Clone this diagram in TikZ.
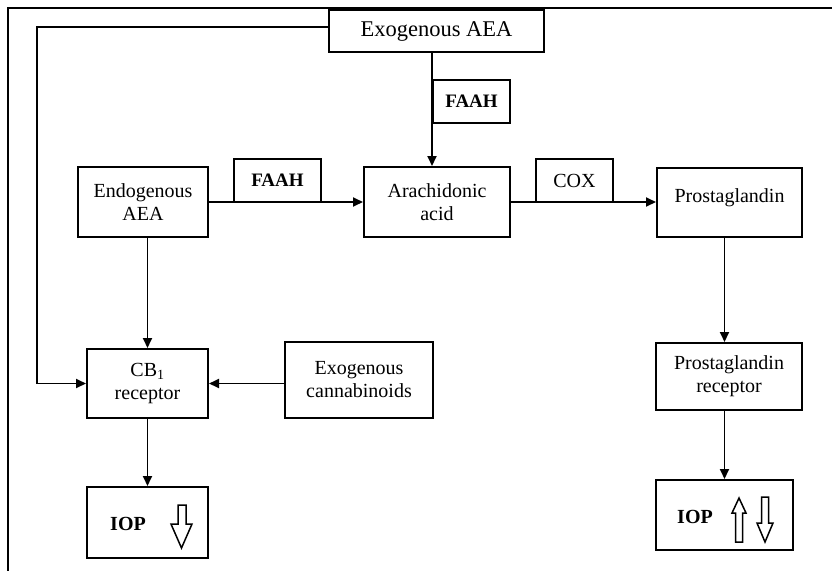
\documentclass[tikz,border=0pt]{standalone}
\usepackage{fontspec}
\setmainfont{Liberation Serif}
\usetikzlibrary{arrows.meta,calc}
\begin{document}
\begin{tikzpicture}[x=1pt,y=-1pt,
  box/.style={draw,line width=2pt,rectangle,inner sep=0pt,align=center,
    font=\fontsize{20}{23}\selectfont},
  lbl/.style={draw,line width=2pt,rectangle,inner sep=0pt,align=center,
    font=\fontsize{19}{22}\selectfont\bfseries},
  conn/.style={line width=1.8pt,-{Triangle[length=10pt,width=9pt]}},
  hollow/.style={line width=1.5pt,line join=miter}]
\useasboundingbox (0,0) rectangle (832,571);
% outer frame
\draw[line width=2.4pt] (832,8) -- (8,8) -- (8,571);
% nodes
\node[box,minimum width=215pt,minimum height=42pt,font=\fontsize{22.5}{25}\selectfont] (exo) at (436.5,31) {Exogenous AEA};
\node[lbl,minimum width=77pt,minimum height=43pt] (faah1) at (471.5,101.5) {FAAH};
\node[box,minimum width=146pt,minimum height=70pt] (ara) at (437,202) {Arachidonic\\acid};
\node[box,minimum width=130pt,minimum height=70pt] (endo) at (143,202) {Endogenous\\AEA};
\node[lbl,minimum width=87pt,minimum height=43pt] (faah2) at (277.5,180.5) {FAAH};
\node[box,minimum width=77pt,minimum height=43pt] (cox) at (574.5,180.5) {COX};
\node[box,minimum width=145pt,minimum height=69pt] (pg) at (729.5,202.5) {};
\node[font=\fontsize{20}{23}\selectfont] (pgt) at (729.5,198) {Prostaglandin};
\node[box,minimum width=146pt,minimum height=67pt] (pgr) at (729,376.5) {Prostaglandin\\receptor};
\node[box,minimum width=121pt,minimum height=69pt] (cb1) at (147.5,383.5) {CB\textsubscript{1}\\receptor};
\node[box,minimum width=148pt,minimum height=76pt] (exocan) at (359,380) {Exogenous\\cannabinoids};
\node[box,minimum width=121pt,minimum height=71pt] (iop1) at (147.5,522.5) {};
\node[box,minimum width=137pt,minimum height=70pt] (iop2) at (724.5,515) {};
\node[font=\fontsize{20}{23}\selectfont\bfseries] (iop1t) at (128,524) {IOP};
\node[font=\fontsize{20}{23}\selectfont\bfseries] (iop2t) at (695,517) {IOP};
% hollow arrows
\draw[hollow] (178,505) -- (186,505) -- (186,524) -- (192,524) -- (181.5,548) -- (171,524) -- (178,524) -- cycle;
\draw[hollow] (735.5,542) -- (742.5,542) -- (742.5,513) -- (746,513) -- (739,498) -- (732,513) -- (735.5,513) -- cycle;
\draw[hollow] (761.5,497) -- (768.5,497) -- (768.5,523) -- (773,523) -- (765,542) -- (757,523) -- (761.5,523) -- cycle;
% connectors
\coordinate (corner) at (37,27);
\draw[conn] (corner -| exo.west) -- (corner) |- (cb1.west);
\draw[conn] (faah1.west |- exo.south) -- (faah1.west |- ara.north);
\draw[conn] (endo.east) -- (endo.east -| ara.west);
\draw[conn] (ara.east) -- (ara.east -| pg.west);
\draw[conn] (iop2.north |- pg.south) -- (iop2.north |- pgr.north);
\draw[conn] (iop2.north |- pgr.south) -- (iop2.north);
\draw[conn] (cb1.north |- endo.south) -- (cb1.north);
\draw[conn] (cb1.south) -- (iop1.north);
\draw[conn] (cb1.east -| exocan.west) -- (cb1.east);
\end{tikzpicture}
\end{document}
